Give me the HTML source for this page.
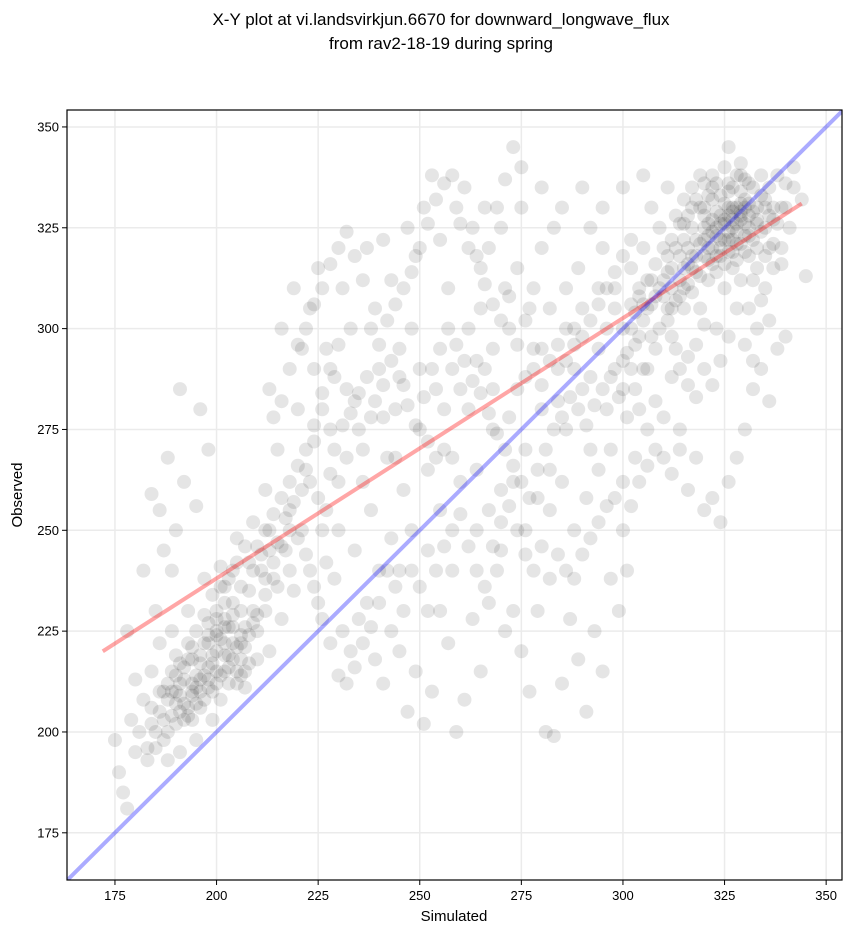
<!DOCTYPE html>
<html><head><meta charset="utf-8">
<style>
html,body{margin:0;padding:0;background:#fff;}
svg{display:block;font-family:"Liberation Sans","DejaVu Sans",sans-serif;}
</style></head>
<body>
<svg id="chart" width="851" height="934">
<text x="441" y="25" text-anchor="middle" font-size="17">X-Y plot at vi.landsvirkjun.6670 for downward_longwave_flux</text>
<text x="441" y="49" text-anchor="middle" font-size="17">from rav2-18-19 during spring</text>
<g id="grid"></g>
<g id="points"></g>
<g id="lines"></g>
<rect x="67" y="110" width="775" height="770" fill="none" stroke="#000" stroke-width="1.2"/>
<g id="ticks"></g>
<text x="454" y="921" text-anchor="middle" font-size="15">Simulated</text>
<text x="22" y="495" text-anchor="middle" font-size="15" transform="rotate(-90 22 495)">Observed</text>
</svg>
<script>
const xTicks=[175,200,225,250,275,300,325,350];
const yTicks=[175,200,225,250,275,300,325,350];
const regLine=[[172,220],[344,331]];
const oneToOne=[[160,160],[360,360]];
const simObsA="175,198 176,190 177,185 178,181 180,195 181,200 183,193 184,202 185,196 186,205 187,210 188,200 189,215 190,207 191,212 192,203 193,218 194,209 195,214 196,206 197,222 198,211 199,217 200,225 201,208 202,228 203,219 204,232 205,215 206,224 207,221 208,235 209,227 210,218 211,240 212,230 189,225 193,230 197,238 201,241 205,248 209,252 213,245 186,222 184,215 182,208 179,203 195,198 199,203 191,195 188,193 200,215 203,212 206,230 202,222 198,227 194,221 190,219 204,226 207,211 210,225 213,220 216,228 215,236 218,240 185,230 187,245 190,250 192,262 195,256 198,270 196,280 191,285 188,268 186,255 189,240 180,213 178,225 182,240 184,259 212,260 215,270 218,255 220,280 222,265 224,290 226,250 228,275 230,262 232,285 234,245 236,270 238,255 240,290 242,268 244,280 246,260 248,300 250,275 252,265 254,285 256,270 258,290 260,262 213,285 216,300 219,310 221,295 223,305 225,315 227,295 229,288 231,310 233,300 235,275 237,320 239,305 241,322 243,312 245,295 247,325 249,318 251,330 253,338 255,322 257,310 259,330 261,335 263,325 265,315 267,320 269,330 271,337 273,345 275,330 217,245 219,235 221,250 223,240 225,232 227,242 229,238 231,225 233,220 235,228 237,232 239,218 241,212 243,225 245,220 247,205 249,215 251,202 253,210 255,230 257,222 259,200 261,208 263,228 265,215 267,232 269,240 271,225 273,230 275,220 277,210 279,230 281,200 283,199 285,212 287,228 289,218 291,205 293,225 295,215 297,238 299,230 301,240 262,280 264,265 266,290 268,275 270,260 272,300 274,285 276,270 278,295 280,280 282,265 284,290 286,275 288,300 290,285 292,270 294,295 296,280 298,290 300,300 262,300 265,305 268,295 271,310 274,315 277,305 280,320 283,325 286,310 289,315 292,325 295,320 298,310 264,250 267,255 270,245 273,262 276,250 279,258 282,255 285,262 288,250 291,258 294,265 297,270 300,262 303,268 306,275 302,300 304,310 306,305 308,308 310,312 312,315 314,318 316,320 318,322 320,325 322,327 324,328 326,330 328,326 330,332 332,329 334,333 336,335 338,338 340,336 319,330 321,320 323,318 325,322 327,335 329,338 331,323 333,320 335,325 337,330 342,340 344,332 309,300 311,305 313,295 315,310 317,315 319,305 321,312 323,300 325,310 327,315 329,312 331,305 333,300 335,310 337,315 339,320 341,325 305,320 307,330 309,325 311,335 313,328 315,332 317,335 319,338 321,333 323,336 325,340 327,330 329,334 300,285 302,290 304,280 306,290 308,282 310,278 312,288 314,275 316,260 318,268 320,255 322,258 324,252 326,262 328,268 330,275 332,285 334,290 336,282 338,295 340,298 345,313 320,322 322,324 324,326 326,328 328,330 324,320 326,322 328,324 330,326 318,318 316,316 314,312 322,332 326,334 330,330 332,335 320,328 188,208 190,210 192,207 194,212 196,210 200,220 202,219 204,222 206,218 200,228 202,232 245,240 248,250 252,245 255,255 258,240 240,240 243,248 236,262 230,250 228,264 226,280 224,272 323,329 325,331 327,327 329,329 331,331 321,326 323,323 325,326 327,322 329,328 333,327 335,330 317,325 315,322 311,318 307,312 305,306 303,304 310,308 312,310 191,209 193,206 195,211 197,214 199,219 201,223 203,226 205,221 207,226 209,230 198,216 194,203 190,202 187,198 252,272 256,280 258,268 244,268 241,278 234,282 232,268 238,278 246,286 250,290 254,268 260,285 264,292 268,285 272,278 276,288 280,295 284,282 288,290 292,288 296,300 300,292 304,298 308,295 278,310 282,305 286,300 290,305 294,310 298,305 302,315 285,330 290,335 295,330 300,335 305,338 280,335 275,340 270,325 266,330";
const simObsB="322,320 324,322 326,324 328,321 330,323 320,318 322,316 324,318 326,319 328,317 330,319 332,322 334,324 336,328 318,314 316,311 314,308 312,305 320,330 322,335 324,333 326,336 328,338 330,337 318,332 316,328 314,326 312,322 310,320 308,316 306,312 304,308 302,306 325,327 327,325 329,327 331,325 333,326 323,325 321,323 319,321 317,318 315,315 327,329 329,331 331,328 333,330 335,332 337,327 339,330 336,320 338,326 340,330 342,335 334,338 331,336 329,341 326,345 322,338 320,336 317,330 315,326 313,320 311,314 309,310 307,306 305,302 303,296 301,294 311,302 313,307 315,305 317,309 319,313 321,317 323,314 325,316 327,319 329,321 331,318 333,315 335,318 337,321 339,316 332,312 334,307 336,302 320,301 318,296 316,293 314,290 312,298 328,305 330,296 332,292 326,298 324,292 322,286 320,290 318,283 316,286 190,214 192,216 194,218 196,217 198,222 200,224 202,226 204,229 206,222 208,224 210,229 212,234 214,238 192,213 194,210 196,213 198,213 200,212 202,215 204,218 206,214 208,217 188,212 186,210 184,206 196,219 198,224 200,230 202,236 204,240 206,236 208,242 210,246 212,250 214,254 216,258 218,262 220,266 222,270 224,276 226,284 228,290 230,296 189,204 191,205 193,204 195,207 197,208 199,210 201,214 203,216 205,212 207,215 183,196 185,200 187,203 189,210 191,217 193,222 195,225 197,229 199,234 201,236 203,238 205,242 207,246 209,240 211,244 213,250 215,247 217,253 219,257 221,260 223,262 225,258 227,255 229,270 231,276 233,279 235,284 237,288 239,282 241,286 243,292 245,288 247,281 249,276 251,283 253,290 255,295 257,300 259,296 261,292 263,287 265,284 267,279 269,274 271,270 273,266 275,262 277,258 279,265 281,270 283,275 285,278 287,283 289,280 291,276 293,281 295,285 297,288 299,283 301,278 303,285 305,290 307,298 214,278 216,282 218,290 220,296 222,300 224,306 226,310 228,316 230,320 232,324 234,318 236,312 238,300 240,296 242,302 244,306 246,310 248,314 250,320 252,326 254,332 256,336 258,338 260,326 262,320 264,318 266,311 268,306 270,302 272,308 274,296 276,302 278,290 280,286 282,292 284,296 286,292 288,296 290,298 292,302 294,306 296,310 298,314 300,318 302,322 248,240 250,236 252,230 254,240 256,246 258,250 260,254 262,246 264,240 266,236 268,246 270,252 272,256 274,250 276,244 278,240 280,246 282,238 284,244 286,240 288,238 290,244 292,248 294,252 296,256 298,258 300,250 302,256 304,262 306,266 308,270 310,268 312,264 314,270 246,230 244,236 242,240 240,232 238,226 236,222 234,216 232,212 230,214 228,222 226,228 224,236 222,244 220,248 218,250 216,246 214,242 212,238";
const pts=(simObsA+" "+simObsB).split(" ").map(p=>p.split(",").map(Number));
const sim=pts.map(p=>p[0]), obs=pts.map(p=>p[1]);
const L=67,R=842,T=110,B=880,XMIN=163.2,XMAX=353.9,YMIN=163.3,YMAX=354.2;
const sx=v=>L+(v-XMIN)/(XMAX-XMIN)*(R-L);
const sy=v=>B-(v-YMIN)/(YMAX-YMIN)*(B-T);
const NS="http://www.w3.org/2000/svg";
function mk(tag,attrs,parent){const e=document.createElementNS(NS,tag);for(const k in attrs)e.setAttribute(k,attrs[k]);parent.appendChild(e);return e;}
const grid=document.getElementById("grid"),ticks=document.getElementById("ticks");
xTicks.forEach(t=>{
 const x=sx(t);
 const g=mk("line",{x1:x,x2:x,y1:T,y2:B,stroke:"#ebebeb","stroke-width":1.5},grid);
 
 
 const tk=mk("line",{x1:x,x2:x,y1:B,y2:B+5,stroke:"#000"},ticks);
 
 
 const lb=mk("text",{x:x,y:B+20,"text-anchor":"middle","font-size":13},ticks);
 lb.textContent=t;
 
 
});
yTicks.forEach(t=>{
 const y=sy(t);
 const g=mk("line",{x1:L,x2:R,y1:y,y2:y,stroke:"#ebebeb","stroke-width":1.5},grid);
 
 
 const tk=mk("line",{x1:L-5,x2:L,y1:y,y2:y,stroke:"#000"},ticks);
 
 
 const lb=mk("text",{x:L-8,y:y+4.5,"text-anchor":"end","font-size":13},ticks);
 lb.textContent=t;
 
 
});
const pg=document.getElementById("points");
sim.forEach((s,i)=>{
 const c=mk("circle",{cx:sx(s),cy:sy(obs[i]),r:7,fill:"#000","fill-opacity":0.1},pg);
 
 
});
const lg=document.getElementById("lines");
const clip=mk("clipPath",{id:"pc"},lg);mk("rect",{x:L,y:T,width:R-L,height:B-T},clip);
const rl=mk("line",{x1:sx(regLine[0][0]),y1:sy(regLine[0][1]),x2:sx(regLine[1][0]),y2:sy(regLine[1][1]),stroke:"#ff0000","stroke-opacity":0.35,"stroke-width":4},lg);


const bl=mk("line",{x1:sx(oneToOne[0][0]),y1:sy(oneToOne[0][1]),x2:sx(oneToOne[1][0]),y2:sy(oneToOne[1][1]),stroke:"#0000ff","stroke-opacity":0.33,"stroke-width":4,"clip-path":"url(#pc)"},lg);


</script>
</body></html>
